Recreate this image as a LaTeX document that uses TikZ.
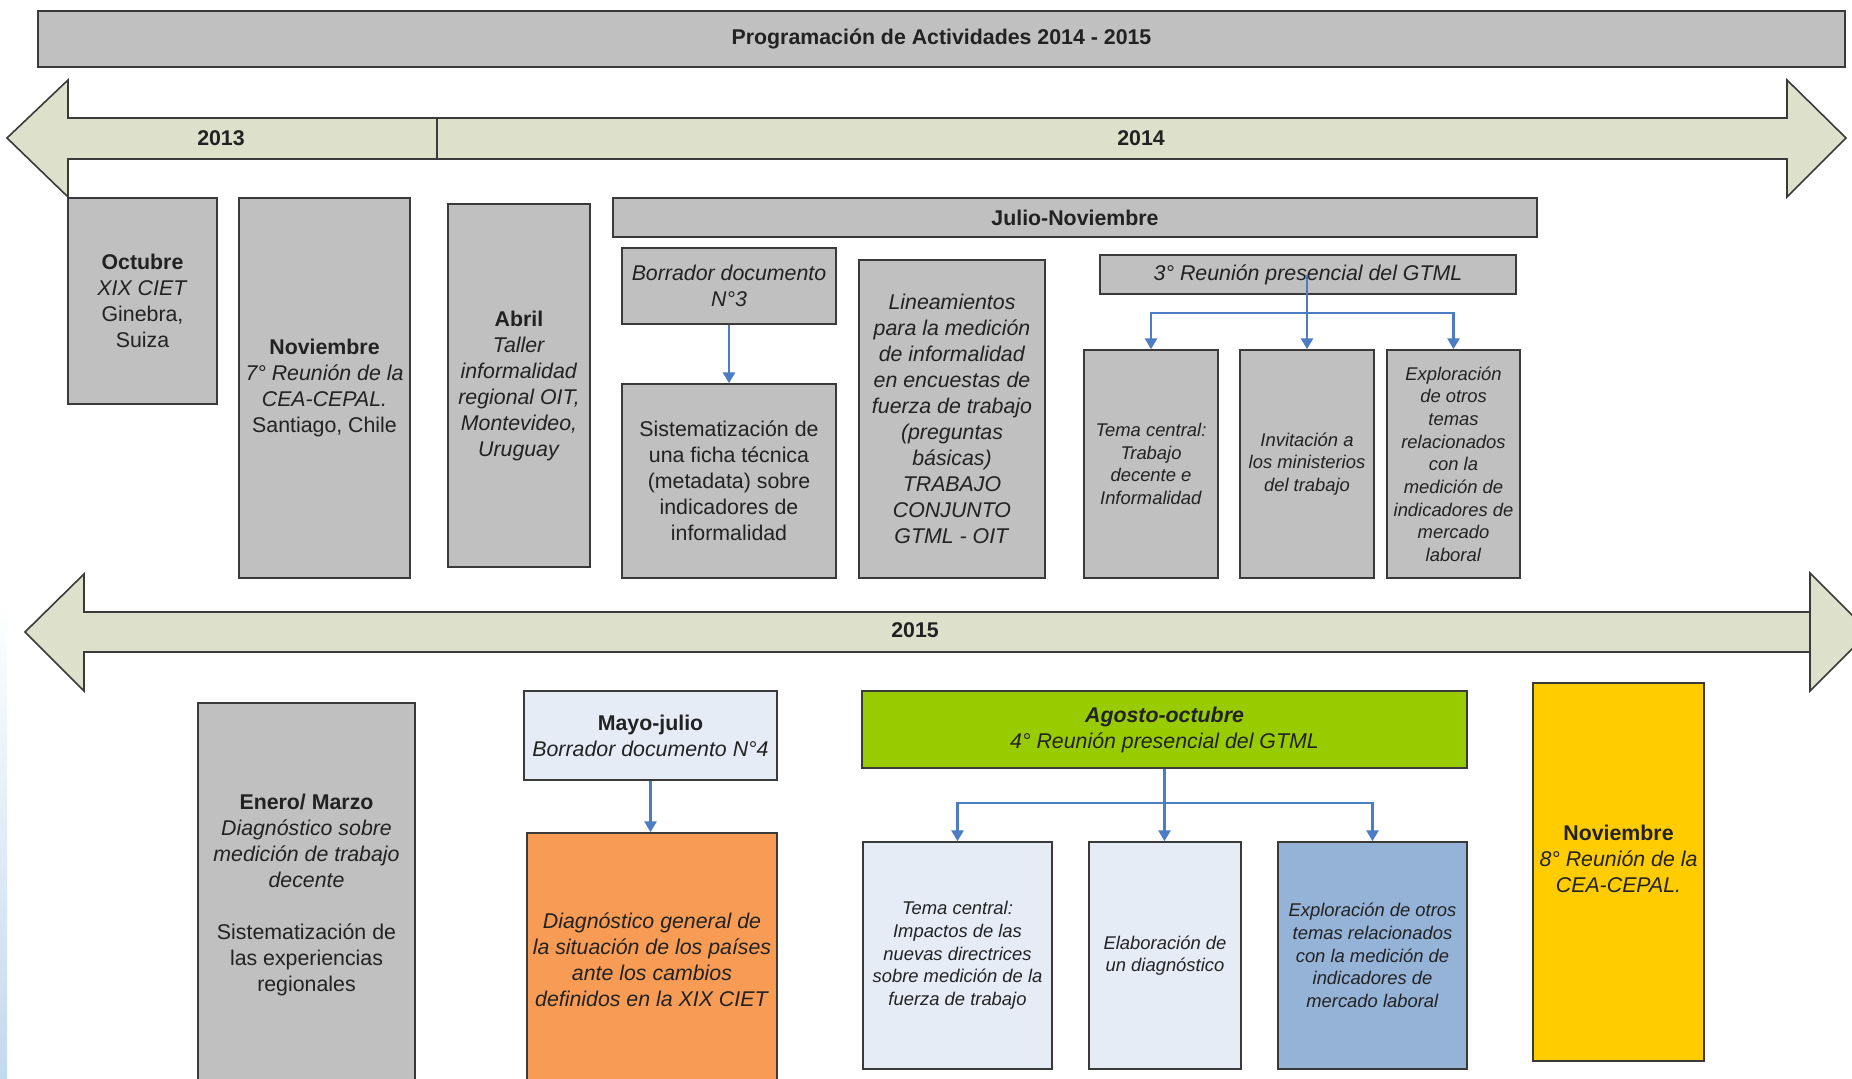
\documentclass[tikz,border=0pt]{standalone}
\usepackage{fontspec}
\setmainfont{Liberation Sans}
\usetikzlibrary{arrows.meta,calc}
\definecolor{boxgray}{HTML}{C0C0C0}
\definecolor{arrowfill}{HTML}{DDE0CB}
\definecolor{edgecol}{HTML}{3A3A3A}
\definecolor{conncol}{HTML}{4A7DC4}
\definecolor{paleblue}{HTML}{E6ECF6}
\definecolor{midblue}{HTML}{95B3D7}
\definecolor{orangebox}{HTML}{F79B55}
\definecolor{greenbox}{HTML}{99CC00}
\definecolor{yellowbox}{HTML}{FFCC00}
\definecolor{stripblue}{HTML}{C3D9EE}
\definecolor{txt}{HTML}{222222}
\tikzset{
  box/.style={draw=edgecol, line width=1.3pt, fill=boxgray, inner sep=0pt, align=center,
    text=txt, font=\fontsize{16}{19.5}\selectfont},
  smallbox/.style={box, font=\fontsize{13.8}{17}\selectfont},
  rect/.style n args={4}{at={({(#1+#3)/2},{(#2+#4)/2})},
    minimum width={(#3-#1)*0.75pt}, minimum height={(#4-#2)*0.75pt}},
  connline/.style={draw=conncol, line width=1.6pt},
  conn/.style={connline, -{Triangle[width=9pt,length=8pt]}},
  band/.style={draw=edgecol, line width=1.2pt, fill=arrowfill, line join=miter},
  year/.style={font=\fontsize{16}{19}\selectfont\bfseries, text=txt},
}
\begin{document}
\begin{tikzpicture}[x=0.75pt,y=-0.75pt]
\useasboundingbox (0,0) rectangle (1852,1078);
\clip (0,0) rectangle (1852,1078);
\fill[white] (0,0) rectangle (1852,1078);
\shade[top color=white, bottom color=stripblue] (0,600) rectangle (7,1078);

% title
\node[box, rect={38}{11}{1845}{67}] (title) {\textbf{Programación de Actividades 2014 - 2015}};

% top timeline arrow
\draw[band] (437,118) -- (68,118) -- (68,80) -- (7,138) -- (68,197) -- (68,159) -- (437,159) -- cycle;
\draw[band] (437,118) -- (1787,118) -- (1787,80) -- (1846,138) -- (1787,197) -- (1787,159) -- (437,159) -- cycle;
\node[year] (y2013) at (221,138) {2013};
\node[year] (y2014) at (1141,138) {2014};

% row 2014
\node[box, rect={68}{198}{217}{404}] (oct) {\textbf{Octubre}\\ \textit{XIX CIET}\\ Ginebra,\\ Suiza};
\node[box, rect={239}{198}{410}{578}] (nov) {\textbf{Noviembre}\\ \textit{7° Reunión de la}\\ \textit{CEA-CEPAL.}\\ Santiago, Chile};
\node[box, rect={448}{204}{590}{567}] (abr) {\textbf{Abril}\\ \textit{Taller}\\ \textit{informalidad}\\ \textit{regional OIT,}\\ \textit{Montevideo,}\\ \textit{Uruguay}};
\node[box, rect={613}{198}{1537}{237}] (julnov) {\textbf{Julio-Noviembre}};
\node[box, rect={622}{248}{836}{324}] (bor3) {\textit{Borrador documento}\\ \textit{N°3}};
\node[box, rect={622}{384}{836}{578}] (sist) {Sistematización de\\ una ficha técnica\\ (metadata) sobre\\ indicadores de\\ informalidad};
\node[box, rect={859}{260}{1045}{578}] (lin) {\textit{Lineamientos}\\ \textit{para la medición}\\ \textit{de informalidad}\\ \textit{en encuestas de}\\ \textit{fuerza de trabajo}\\ \textit{(preguntas}\\ \textit{básicas)}\\ \textit{TRABAJO}\\ \textit{CONJUNTO}\\ \textit{GTML - OIT}};
\node[box, rect={1100}{255}{1516}{294}] (reun3) {\textit{3° Reunión presencial del GTML}};
\node[smallbox, rect={1084}{350}{1218}{578}] (ta) {\textit{Tema central:}\\ \textit{Trabajo}\\ \textit{decente e}\\ \textit{Informalidad}};
\node[smallbox, rect={1240}{350}{1374}{578}] (tb) {\textit{Invitación a}\\ \textit{los ministerios}\\ \textit{del trabajo}};
\node[smallbox, rect={1387}{350}{1520}{578}] (tc) {\textit{Exploración}\\ \textit{de otros}\\ \textit{temas}\\ \textit{relacionados}\\ \textit{con la}\\ \textit{medición de}\\ \textit{indicadores de}\\ \textit{mercado}\\ \textit{laboral}};

\draw[conn] (bor3.south) -- (sist.north);
\coordinate (j3) at (tb.north |- 0,313);
\draw[connline] (j3 |- reun3.center) -- (j3);
\draw[conn] (j3) -| (ta.north);
\draw[conn] (j3) -| (tc.north);
\draw[conn] (j3) -- (tb.north);

% bottom timeline arrow
\draw[band] (84,612) -- (84,574) -- (25,632) -- (84,691) -- (84,652) -- (1810,652) -- (1810,691) -- (1869,632) -- (1810,573) -- (1810,612) -- cycle;
\draw[draw=edgecol, line width=1.2pt] (1810,612) -- (1810,652);
\node[year] (y2015) at (915,630) {2015};

% row 2015
\node[box, rect={198}{703}{415}{1086}] (ene) {\textbf{Enero/ Marzo}\\ \textit{Diagnóstico sobre}\\ \textit{medición de trabajo}\\ \textit{decente}\\[19.5pt] Sistematización de\\ las experiencias\\ regionales};
\node[box, fill=paleblue, rect={524}{691}{777}{780}] (mayo) {\textbf{Mayo-julio}\\ \textit{Borrador documento N°4}};
\node[box, fill=orangebox, rect={527}{833}{777}{1086}] (diag) {\textit{Diagnóstico general de}\\ \textit{la situación de los países}\\ \textit{ante los cambios}\\ \textit{definidos en la XIX CIET}};
\node[box, fill=greenbox, rect={862}{691}{1467}{768}] (ago) {\textbf{\textit{Agosto-octubre}}\\ \textit{4° Reunión presencial del GTML}};
\node[smallbox, fill=paleblue, rect={863}{842}{1052}{1069}] (ba) {\textit{Tema central:}\\ \textit{Impactos de las}\\ \textit{nuevas directrices}\\ \textit{sobre medición de la}\\ \textit{fuerza de trabajo}};
\node[smallbox, fill=paleblue, rect={1089}{842}{1241}{1069}] (bb) {\textit{Elaboración de}\\ \textit{un diagnóstico}};
\node[smallbox, fill=midblue, rect={1278}{842}{1467}{1069}] (bc) {\textit{Exploración de otros}\\ \textit{temas relacionados}\\ \textit{con la medición de}\\ \textit{indicadores de}\\ \textit{mercado laboral}};
\node[box, fill=yellowbox, rect={1533}{683}{1704}{1061}] (nov2) {\textbf{Noviembre}\\ \textit{8° Reunión de la}\\ \textit{CEA-CEPAL.}\\[1pt]\mbox{}};

\draw[conn] (mayo.south) -- (mayo.south |- diag.north);
\coordinate (j4) at (ago.south |- 0,803);
\draw[connline] (ago.south) -- (j4);
\draw[conn] (j4) -| (ba.north);
\draw[conn] (j4) -| (bc.north);
\draw[conn] (j4) -- (j4 |- bb.north);
\end{tikzpicture}
\end{document}
